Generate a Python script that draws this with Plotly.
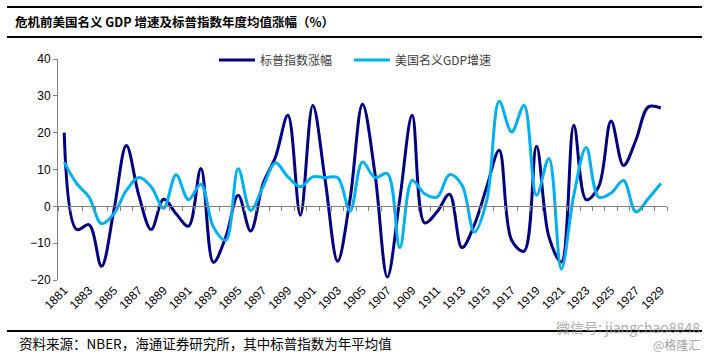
import plotly.graph_objects as go

years = list(range(1881, 1930))
sp_change = [20, -6.3, -5, -16.3, -1, 16.5, 3, -6.3, 1.9, -2, -5.4, 10.3, -15.2, -8.3, 3,
             -6.7, 6.2, 13.4, 24.7, -2.4, 27.4, 7, -14.9, 2, 27.7, 9, -19.2, 2, 24.7, -4.5,
             -1.5, 3.3, -11.2, -5, 5.3, 15.2, -9.2, -12.2, 16.3, -8.3, -15.1, 22, 1.8, 5.3,
             23.2, 11.1, 18, 27, 26.7]
gdp_growth = [12, 6.2, 2.5, -4.7, -2, 4.3, 7.8, 5.3, -0.5, 8.6, 1.8, 6, -5.6, -9.2, 10.2,
              -1.1, 5.3, 11.8, 8, 5.3, 8, 7.8, 7.8, -1.3, 12, 7.8, 8.9, -11.2, 7, 3.4,
              2.5, 8.6, 5.8, -7, 1.6, 28.5, 20.2, 27.4, 3, 13, -17, 3, 16, 2.5, 3.6,
              7, -1.5, 2.1, 6.2]
yticks = [-20, -10, 0, 10, 20, 30, 40]
xtick_years = list(range(1881, 1930, 2))

W, H = 709, 358
L, R, T, B = 58, 42, 59, 78
pw, ph = W - L - R, H - T - B

def px(x):
    return (x - L) / pw

def py(y):
    return (H - B - y) / ph

font_main = "Liberation Sans, Arial, Noto Sans CJK SC, sans-serif"
font_cjk = "Noto Sans CJK SC, Liberation Sans, sans-serif"

fig = go.Figure()
fig.add_trace(go.Scatter(x=years, y=sp_change, mode="lines", name="标普指数涨幅",
                         legend="legend",
                         line=dict(color="#000080", width=3, shape="spline", smoothing=1.0)))
fig.add_trace(go.Scatter(x=years, y=gdp_growth, mode="lines", name="美国名义GDP增速",
                         legend="legend2",
                         line=dict(color="#00B0F0", width=3, shape="spline", smoothing=1.0)))
# invisible trace so the zero-line axis is drawn
fig.add_trace(go.Scatter(x=[years[0]], y=[0], xaxis="x2", mode="markers",
                         marker=dict(opacity=0), showlegend=False, hoverinfo="skip"))

xr = [years[0] - 0.5, years[-1] + 0.5]
bounds = [y - 0.5 for y in years] + [years[-1] + 0.5]

leg_common = dict(orientation="h", xref="container", yref="container",
                  y=1 - 60 / H, xanchor="left", yanchor="middle",
                  font=dict(family=font_cjk, size=12, color="#404040"),
                  bgcolor="rgba(0,0,0,0)", itemwidth=36)

fig.update_layout(
    width=W, height=H,
    margin=dict(l=L, r=R, t=T, b=B, autoexpand=False),
    paper_bgcolor="white", plot_bgcolor="white",
    font=dict(family=font_main, size=12, color="#000000"),
    showlegend=True,
    legend=dict(x=214 / W, **leg_common),
    legend2=dict(x=349 / W, **leg_common),
    xaxis=dict(range=xr, tickmode="array", tickvals=xtick_years,
               ticktext=[str(y) for y in xtick_years], tickangle=-45,
               showline=False, ticks="", showgrid=False, zeroline=False,
               tickfont=dict(size=12, family=font_main)),
    xaxis2=dict(range=xr, overlaying="x", anchor="free", position=1 / 3, side="bottom",
                tickmode="array", tickvals=bounds, ticks="outside", ticklen=4,
                tickcolor="#808080", showticklabels=False, showline=True,
                linecolor="#808080", linewidth=1, showgrid=False, zeroline=False),
    yaxis=dict(range=[-20, 40], tickmode="array", tickvals=yticks,
               showline=True, linecolor="#808080", linewidth=1, ticks="outside",
               ticklen=4, tickcolor="#808080", showgrid=False, zeroline=False,
               tickfont=dict(size=12, family=font_main)),
)

# header / footer rules
for yy in (7, 37, 331):
    fig.add_shape(type="line", xref="paper", yref="paper", layer="above",
                  x0=px(7), x1=px(702), y0=py(yy), y1=py(yy),
                  line=dict(color="#000000", width=2))
# top rule drawn again as an arrow line (fallback)
fig.add_annotation(text="", xref="paper", yref="paper", x=px(7), y=py(7),
                   ax=695, ay=0, axref="pixel", ayref="pixel",
                   showarrow=True, arrowhead=0, arrowwidth=2, arrowcolor="#000000",
                   standoff=0, startstandoff=0)

fig.add_annotation(text="<b>危机前美国名义 GDP 增速及标普指数年度均值涨幅（%）</b>",
                   xref="paper", yref="paper", x=px(13), y=py(22),
                   xanchor="left", yanchor="middle", showarrow=False,
                   font=dict(family=font_cjk, size=12.5, color="#000000"))
fig.add_annotation(text="资料来源：NBER，海通证券研究所，其中标普指数为年平均值",
                   xref="paper", yref="paper", x=px(17), y=py(343),
                   xanchor="left", yanchor="middle", showarrow=False,
                   font=dict(family=font_cjk, size=13.5, color="#000000"))
fig.add_annotation(text="微信号: jiangchao8848",
                   xref="paper", yref="paper", x=px(702), y=py(327),
                   xanchor="right", yanchor="middle", showarrow=False,
                   font=dict(family=font_cjk, size=14, color="rgba(150,150,150,0.8)"))
fig.add_annotation(text="@格隆汇",
                   xref="paper", yref="paper", x=px(702), y=py(344),
                   xanchor="right", yanchor="middle", showarrow=False,
                   font=dict(family=font_cjk, size=12, color="rgba(150,150,150,0.9)"))

fig.write_html("out.html", config={"displayModeBar": False},
               post_script="document.body.style.margin='0';")
